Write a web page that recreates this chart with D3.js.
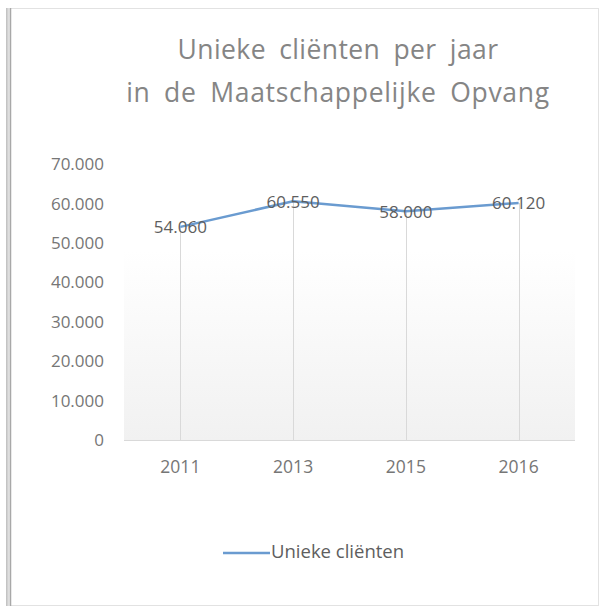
<!DOCTYPE html>
<html><head><meta charset="utf-8">
<script src="https://cdn.jsdelivr.net/npm/d3@7"></script>
<style>body{margin:0;background:#fff;}svg{display:block;}</style>
</head><body>
<script>
const titleLines = ["Unieke cliënten per jaar", "in de Maatschappelijke Opvang"];
const years = ["2011", "2013", "2015", "2016"];
const values = [54060, 60550, 58000, 60120];
const labels = ["54.060", "60.550", "58.000", "60.120"];
const yTicks = [0, 10000, 20000, 30000, 40000, 50000, 60000, 70000];
const seriesName = "Unieke cliënten";

const W = 601, H = 614;
const svg = d3.select("body").append("svg").attr("width", W).attr("height", H);
const defs = svg.append("defs");
const grad = defs.append("linearGradient").attr("id", "pg").attr("x1", 0).attr("y1", 0).attr("x2", 0).attr("y2", 1);
grad.append("stop").attr("offset", "0%").attr("stop-color", "#ffffff");
grad.append("stop").attr("offset", "100%").attr("stop-color", "#f1f1f1");
const sh = defs.append("linearGradient").attr("id", "sh").attr("x1", 0).attr("x2", 1);
sh.append("stop").attr("offset", "0%").attr("stop-color", "#bdbdbd");
sh.append("stop").attr("offset", "100%").attr("stop-color", "#ffffff");

// card frame
svg.append("rect").attr("x", 6).attr("y", 8).attr("width", 5).attr("height", 598).attr("fill", "url(#sh)");
svg.append("rect").attr("x", 10.5).attr("y", 8.5).attr("width", 588).attr("height", 597)
  .attr("fill", "#fff").attr("stroke", "#e2e2e2");
svg.append("line").attr("x1", 10.5).attr("x2", 10.5).attr("y1", 8).attr("y2", 606).attr("stroke", "#a8a8a8").attr("stroke-width", 1.5);

const font = "'Open Sans', sans-serif";

// title
svg.append("g").selectAll("text").data(titleLines).join("text")
  .attr("x", 338).attr("y", (d, i) => 59 + i * 43)
  .attr("text-anchor", "middle").attr("font-family", font).attr("font-size", 26.5)
  .attr("word-spacing", 6).attr("letter-spacing", (d, i) => i === 0 ? 0.4 : 0.7)
  .attr("fill", "#858585").text(d => d);

const x = d3.scaleBand().domain(years).range([124, 575]);
const y = d3.scaleLinear().domain([0, 70000]).range([440, 164]);

// plot gradient
svg.append("rect").attr("x", 124).attr("y", y(50000) + 8).attr("width", 451).attr("height", 440 - y(50000) - 8)
  .attr("fill", "url(#pg)");

// y axis labels
svg.append("g").selectAll("text").data(yTicks).join("text")
  .attr("x", 104).attr("y", d => y(d)).attr("dy", "0.36em")
  .attr("text-anchor", "end").attr("font-family", font).attr("font-size", 17)
  .attr("fill", "#767676").text(d => d === 0 ? "0" : d3.format(",")(d).replace(/,/g, "."));

// x axis line
svg.append("line").attr("x1", 124).attr("x2", 575).attr("y1", 440.5).attr("y2", 440.5)
  .attr("stroke", "#d9d9d9").attr("stroke-width", 1);

// drop lines
svg.append("g").selectAll("line").data(values).join("line")
  .attr("x1", (d, i) => Math.round(x(years[i]) + x.bandwidth() / 2) + 0.5)
  .attr("x2", (d, i) => Math.round(x(years[i]) + x.bandwidth() / 2) + 0.5)
  .attr("y1", d => y(d)).attr("y2", 440)
  .attr("stroke", "#d9d9d9").attr("stroke-width", 1);

// x labels
svg.append("g").selectAll("text").data(years).join("text")
  .attr("x", d => x(d) + x.bandwidth() / 2).attr("y", 473)
  .attr("text-anchor", "middle").attr("font-family", font).attr("font-size", 17.5)
  .attr("fill", "#767676").text(d => d);

// line
const line = d3.line().x((d, i) => x(years[i]) + x.bandwidth() / 2).y(d => y(d));
svg.append("path").datum(values).attr("d", line).attr("fill", "none")
  .attr("stroke", "#6a9bd0").attr("stroke-width", 2.5).attr("stroke-linejoin", "round");

// data labels
svg.append("g").selectAll("text").data(values).join("text")
  .attr("x", (d, i) => x(years[i]) + x.bandwidth() / 2)
  .attr("y", d => y(d)).attr("dy", "0.38em")
  .attr("text-anchor", "middle").attr("font-family", font).attr("font-size", 17)
  .attr("fill", "#5e5e5e").text((d, i) => labels[i]);

// legend
svg.append("line").attr("x1", 223).attr("x2", 270).attr("y1", 553).attr("y2", 553)
  .attr("stroke", "#6a9bd0").attr("stroke-width", 2.5);
svg.append("text").attr("x", 271).attr("y", 558)
  .attr("font-family", font).attr("font-size", 18.5).attr("fill", "#5e5e5e").text(seriesName);
</script>
</body></html>
